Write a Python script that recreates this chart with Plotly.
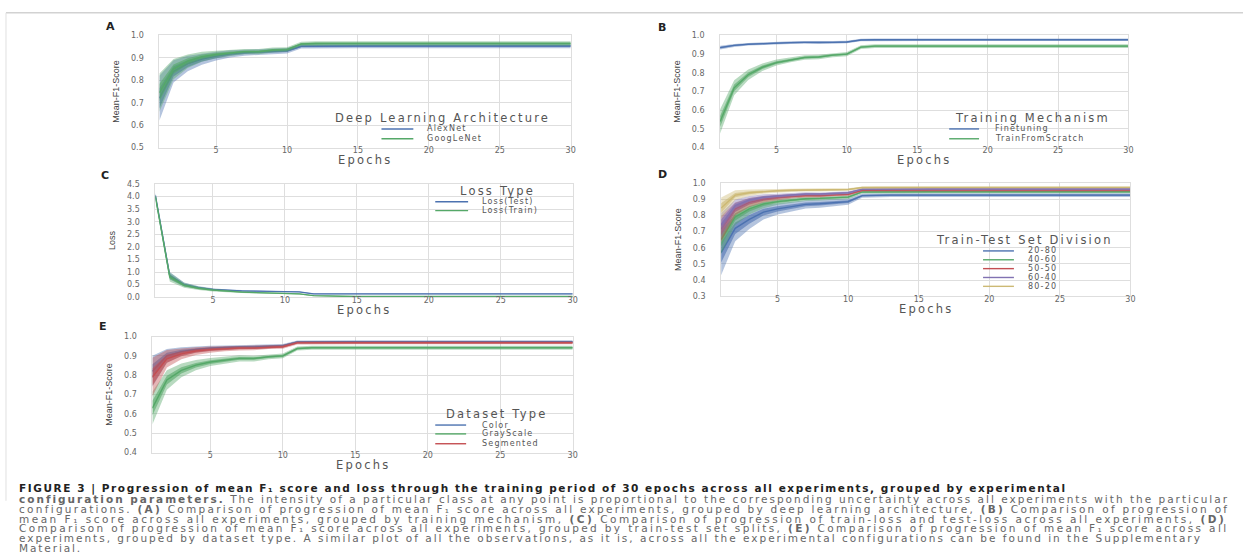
import plotly.graph_objects as go

W, H = 1248, 554

# ---------------- data ----------------
epochs = list(range(1, 31))

# Panel A - Deep Learning Architecture (Mean-F1-Score)
arch_names = ["AlexNet", "GoogLeNet"]
alexnet_mean = [0.720, 0.840, 0.875, 0.895, 0.908, 0.918, 0.924, 0.926, 0.930, 0.932, 0.952, 0.953, 0.953, 0.953, 0.953,
                0.953, 0.953, 0.953, 0.953, 0.953, 0.953, 0.953, 0.953, 0.953, 0.953, 0.953, 0.953, 0.953, 0.953, 0.953]
alexnet_spread = [0.100, 0.050, 0.035, 0.025, 0.020, 0.016, 0.014, 0.013, 0.012, 0.012, 0.010, 0.010, 0.010, 0.010, 0.010,
                  0.010, 0.010, 0.010, 0.010, 0.010, 0.010, 0.010, 0.010, 0.010, 0.010, 0.010, 0.010, 0.010, 0.010, 0.010]
googlenet_mean = [0.745, 0.850, 0.885, 0.905, 0.915, 0.923, 0.928, 0.928, 0.935, 0.937, 0.962, 0.964, 0.964, 0.964, 0.964,
                  0.964, 0.964, 0.964, 0.964, 0.964, 0.964, 0.964, 0.964, 0.964, 0.964, 0.964, 0.964, 0.964, 0.964, 0.964]
googlenet_spread = [0.085, 0.045, 0.030, 0.022, 0.017, 0.014, 0.012, 0.012, 0.011, 0.010, 0.010, 0.010, 0.010, 0.010, 0.010,
                    0.010, 0.010, 0.010, 0.010, 0.010, 0.010, 0.010, 0.010, 0.010, 0.010, 0.010, 0.010, 0.010, 0.010, 0.010]

# Panel B - Training Mechanism
mech_names = ["Finetuning", "TrainFromScratch"]
finetuning_mean = [0.935, 0.947, 0.953, 0.957, 0.960, 0.962, 0.963, 0.961, 0.963, 0.965, 0.976, 0.977, 0.977, 0.977, 0.977,
                   0.977, 0.977, 0.977, 0.977, 0.977, 0.977, 0.977, 0.977, 0.977, 0.977, 0.977, 0.977, 0.977, 0.977, 0.977]
finetuning_spread = [0.010, 0.008, 0.007, 0.007, 0.007, 0.007, 0.007, 0.007, 0.007, 0.007, 0.007, 0.007, 0.007, 0.007, 0.007,
                     0.007, 0.007, 0.007, 0.007, 0.007, 0.007, 0.007, 0.007, 0.007, 0.007, 0.007, 0.007, 0.007, 0.007, 0.007]
scratch_mean = [0.540, 0.720, 0.790, 0.830, 0.855, 0.870, 0.882, 0.885, 0.895, 0.900, 0.938, 0.943, 0.943, 0.943, 0.943,
                0.943, 0.943, 0.943, 0.943, 0.943, 0.943, 0.943, 0.943, 0.943, 0.943, 0.943, 0.943, 0.943, 0.943, 0.943]
scratch_spread = [0.065, 0.040, 0.028, 0.020, 0.016, 0.013, 0.012, 0.012, 0.011, 0.011, 0.010, 0.010, 0.010, 0.010, 0.010,
                  0.010, 0.010, 0.010, 0.010, 0.010, 0.010, 0.010, 0.010, 0.010, 0.010, 0.010, 0.010, 0.010, 0.010, 0.010]

# Panel C - Loss Type
loss_names = ["Loss(Test)", "Loss(Train)"]
loss_test_mean = [4.05, 0.85, 0.50, 0.38, 0.31, 0.27, 0.25, 0.24, 0.23, 0.22, 0.21, 0.13, 0.13, 0.13, 0.13,
                  0.13, 0.13, 0.13, 0.13, 0.13, 0.13, 0.13, 0.13, 0.13, 0.13, 0.13, 0.13, 0.13, 0.13, 0.13]
loss_test_spread = [0.10, 0.15, 0.08, 0.05, 0.04, 0.03, 0.03, 0.025, 0.025, 0.02, 0.02, 0.02, 0.02, 0.02, 0.02,
                    0.02, 0.02, 0.02, 0.02, 0.02, 0.02, 0.02, 0.02, 0.02, 0.02, 0.02, 0.02, 0.02, 0.02, 0.02]
loss_train_mean = [4.00, 0.80, 0.47, 0.35, 0.28, 0.23, 0.20, 0.18, 0.16, 0.15, 0.13, 0.06, 0.04, 0.035, 0.03,
                   0.03, 0.03, 0.03, 0.03, 0.03, 0.03, 0.03, 0.03, 0.03, 0.03, 0.03, 0.03, 0.03, 0.03, 0.03]
loss_train_spread = [0.12, 0.18, 0.10, 0.07, 0.05, 0.04, 0.035, 0.03, 0.03, 0.03, 0.025, 0.02, 0.02, 0.02, 0.02,
                     0.02, 0.02, 0.02, 0.02, 0.02, 0.02, 0.02, 0.02, 0.02, 0.02, 0.02, 0.02, 0.02, 0.02, 0.02]

# Panel D - Train-Test Set Division
split_names = ["20-80", "40-60", "50-50", "60-40", "80-20"]
split_20_80_mean = [0.570, 0.720, 0.775, 0.820, 0.840, 0.855, 0.868, 0.872, 0.880, 0.885, 0.922, 0.925, 0.925, 0.925, 0.925,
                    0.925, 0.925, 0.925, 0.925, 0.925, 0.925, 0.925, 0.925, 0.925, 0.925, 0.925, 0.925, 0.925, 0.925, 0.925]
split_20_80_spread = [0.140, 0.080, 0.060, 0.045, 0.035, 0.030, 0.026, 0.025, 0.022, 0.020, 0.013, 0.012, 0.012, 0.012, 0.012,
                      0.012, 0.012, 0.012, 0.012, 0.012, 0.012, 0.012, 0.012, 0.012, 0.012, 0.012, 0.012, 0.012, 0.012, 0.012]
split_40_60_mean = [0.650, 0.790, 0.840, 0.870, 0.885, 0.895, 0.903, 0.905, 0.910, 0.913, 0.945, 0.946, 0.946, 0.946, 0.946,
                    0.946, 0.946, 0.946, 0.946, 0.946, 0.946, 0.946, 0.946, 0.946, 0.946, 0.946, 0.946, 0.946, 0.946, 0.946]
split_40_60_spread = [0.090, 0.050, 0.035, 0.026, 0.020, 0.016, 0.014, 0.013, 0.012, 0.011, 0.009, 0.009, 0.009, 0.009, 0.009,
                      0.009, 0.009, 0.009, 0.009, 0.009, 0.009, 0.009, 0.009, 0.009, 0.009, 0.009, 0.009, 0.009, 0.009, 0.009]
split_50_50_mean = [0.715, 0.840, 0.880, 0.900, 0.910, 0.918, 0.922, 0.922, 0.928, 0.930, 0.955, 0.956, 0.956, 0.956, 0.956,
                    0.956, 0.956, 0.956, 0.956, 0.956, 0.956, 0.956, 0.956, 0.956, 0.956, 0.956, 0.956, 0.956, 0.956, 0.956]
split_50_50_spread = [0.080, 0.040, 0.028, 0.020, 0.016, 0.013, 0.012, 0.011, 0.010, 0.010, 0.008, 0.008, 0.008, 0.008, 0.008,
                      0.008, 0.008, 0.008, 0.008, 0.008, 0.008, 0.008, 0.008, 0.008, 0.008, 0.008, 0.008, 0.008, 0.008, 0.008]
split_60_40_mean = [0.740, 0.860, 0.895, 0.912, 0.920, 0.927, 0.932, 0.932, 0.937, 0.940, 0.962, 0.963, 0.963, 0.963, 0.963,
                    0.963, 0.963, 0.963, 0.963, 0.963, 0.963, 0.963, 0.963, 0.963, 0.963, 0.963, 0.963, 0.963, 0.963, 0.963]
split_60_40_spread = [0.075, 0.038, 0.025, 0.018, 0.014, 0.012, 0.011, 0.010, 0.009, 0.009, 0.007, 0.007, 0.007, 0.007, 0.007,
                      0.007, 0.007, 0.007, 0.007, 0.007, 0.007, 0.007, 0.007, 0.007, 0.007, 0.007, 0.007, 0.007, 0.007, 0.007]
split_80_20_mean = [0.845, 0.925, 0.940, 0.948, 0.952, 0.955, 0.957, 0.956, 0.959, 0.960, 0.972, 0.973, 0.973, 0.973, 0.973,
                    0.973, 0.973, 0.973, 0.973, 0.973, 0.973, 0.973, 0.973, 0.973, 0.973, 0.973, 0.973, 0.973, 0.973, 0.973]
split_80_20_spread = [0.065, 0.030, 0.020, 0.015, 0.012, 0.010, 0.009, 0.009, 0.008, 0.008, 0.007, 0.007, 0.007, 0.007, 0.007,
                      0.007, 0.007, 0.007, 0.007, 0.007, 0.007, 0.007, 0.007, 0.007, 0.007, 0.007, 0.007, 0.007, 0.007, 0.007]

# Panel E - Dataset Type
dataset_names = ["Color", "GrayScale", "Segmented"]
color_mean = [0.820, 0.900, 0.922, 0.933, 0.939, 0.943, 0.946, 0.946, 0.950, 0.952, 0.972, 0.973, 0.973, 0.973, 0.973,
              0.973, 0.973, 0.973, 0.973, 0.973, 0.973, 0.973, 0.973, 0.973, 0.973, 0.973, 0.973, 0.973, 0.973, 0.973]
color_spread = [0.080, 0.035, 0.022, 0.016, 0.013, 0.011, 0.010, 0.010, 0.009, 0.009, 0.008, 0.008, 0.008, 0.008, 0.008,
                0.008, 0.008, 0.008, 0.008, 0.008, 0.008, 0.008, 0.008, 0.008, 0.008, 0.008, 0.008, 0.008, 0.008, 0.008]
grayscale_mean = [0.630, 0.775, 0.825, 0.852, 0.868, 0.878, 0.887, 0.886, 0.895, 0.900, 0.938, 0.942, 0.942, 0.942, 0.942,
                  0.942, 0.942, 0.942, 0.942, 0.942, 0.942, 0.942, 0.942, 0.942, 0.942, 0.942, 0.942, 0.942, 0.942, 0.942]
grayscale_spread = [0.085, 0.050, 0.035, 0.026, 0.021, 0.018, 0.016, 0.015, 0.013, 0.012, 0.010, 0.010, 0.010, 0.010, 0.010,
                    0.010, 0.010, 0.010, 0.010, 0.010, 0.010, 0.010, 0.010, 0.010, 0.010, 0.010, 0.010, 0.010, 0.010, 0.010]
segmented_mean = [0.790, 0.885, 0.910, 0.925, 0.932, 0.937, 0.940, 0.940, 0.945, 0.947, 0.967, 0.968, 0.968, 0.968, 0.968,
                  0.968, 0.968, 0.968, 0.968, 0.968, 0.968, 0.968, 0.968, 0.968, 0.968, 0.968, 0.968, 0.968, 0.968, 0.968]
segmented_spread = [0.100, 0.045, 0.028, 0.020, 0.016, 0.013, 0.012, 0.011, 0.010, 0.010, 0.008, 0.008, 0.008, 0.008, 0.008,
                    0.008, 0.008, 0.008, 0.008, 0.008, 0.008, 0.008, 0.008, 0.008, 0.008, 0.008, 0.008, 0.008, 0.008, 0.008]

x_tick_values = [5, 10, 15, 20, 25, 30]

caption_lines = [
    "<b>FIGURE 3 | Progression of mean F₁ score and loss through the training period of 30 epochs across all experiments, grouped by experimental</b>",
    "<b>configuration parameters.</b> The intensity of a particular class at any point is proportional to the corresponding uncertainty across all experiments with the particular",
    "configurations. <b>(A)</b> Comparison of progression of mean F₁ score across all experiments, grouped by deep learning architecture, <b>(B)</b> Comparison of progression of",
    "mean F₁ score across all experiments, grouped by training mechanism, <b>(C)</b> Comparison of progression of train-loss and test-loss across all experiments, <b>(D)</b>",
    "Comparison of progression of mean F₁ score across all experiments, grouped by train-test set splits, <b>(E)</b> Comparison of progression of mean F₁ score across all",
    "experiments, grouped by dataset type. A similar plot of all the observations, as it is, across all the experimental configurations can be found in the Supplementary",
    "Material.",
]

# ---------------- style ----------------
BLUE, GREEN, RED, PURPLE, YELLOW = "#4C72B0", "#55A868", "#C44E52", "#8172B2", "#CCB974"
GRID = "#dedede"
TXT = "#555555"
FONT = "DejaVu Sans, Liberation Sans, sans-serif"
NARROW = "Liberation Sans Narrow, Liberation Sans, Arial, sans-serif"
# letter spacing per caption line (the printed caption is justified and horizontally stretched)
caption_spacing = [1.57, 2.0, 2.29, 2.5, 2.37, 1.99, 1.9]


def rgba(hex_color, a):
    h = hex_color.lstrip("#")
    return "rgba(%d,%d,%d,%.3f)" % (int(h[0:2], 16), int(h[2:4], 16), int(h[4:6], 16), a)


def spaced(text, ls):
    # the reference figure is horizontally stretched; widen text with letter spacing
    return '<span style="letter-spacing:%.2fpx">%s</span>' % (ls, text)


panels = [
    dict(letter="A", box=(160, 573, 32, 146), yrange=[0.5, 1.0], dtick=0.1, ytitle="Mean-F1-Score", xtitle_y=159,
         series=[(alexnet_mean, alexnet_spread, BLUE), (googlenet_mean, googlenet_spread, GREEN)],
         names=arch_names, legend_title="Deep Learning Architecture",
         leg=dict(title_xy=(444, 116), handle=(383, 415), text_x=427, ys=[127, 137]),
         letter_xy=(111, 23)),
    dict(letter="B", box=(723, 1133, 32, 146), yrange=[0.4, 1.0], dtick=0.1, ytitle="Mean-F1-Score", xtitle_y=159,
         series=[(finetuning_mean, finetuning_spread, BLUE), (scratch_mean, scratch_spread, GREEN)],
         names=mech_names, legend_title="Training Mechanism",
         leg=dict(title_xy=(1037, 116), handle=(953, 983), text_x=997, ys=[127, 137]),
         letter_xy=(665, 24)),
    dict(letter="C", box=(156, 575, 183, 298), yrange=[0.0, 4.5], dtick=0.5, ytitle="Loss", xtitle_y=311,
         series=[(loss_test_mean, loss_test_spread, BLUE), (loss_train_mean, loss_train_spread, GREEN)],
         names=loss_names, legend_title="Loss Type",
         leg=dict(title_xy=(499, 190), handle=(437, 470), text_x=482, ys=[201, 210]),
         letter_xy=(105, 174)),
    dict(letter="D", box=(724, 1135, 182, 297), yrange=[0.3, 1.0], dtick=0.1, ytitle="Mean-F1-Score", xtitle_y=310,
         series=[(split_20_80_mean, split_20_80_spread, BLUE), (split_40_60_mean, split_40_60_spread, GREEN),
                 (split_50_50_mean, split_50_50_spread, RED), (split_60_40_mean, split_60_40_spread, PURPLE),
                 (split_80_20_mean, split_80_20_spread, YELLOW)],
         names=split_names, legend_title="Train-Test Set Division",
         leg=dict(title_xy=(1029, 240), handle=(987, 1018), text_x=1030, ys=[251, 260, 269, 278, 287]),
         letter_xy=(665, 173)),
    dict(letter="E", box=(153, 575, 338, 456), yrange=[0.4, 1.0], dtick=0.1, ytitle="Mean-F1-Score", xtitle_y=469,
         series=[(color_mean, color_spread, BLUE), (grayscale_mean, grayscale_spread, GREEN),
                 (segmented_mean, segmented_spread, RED)],
         names=dataset_names, legend_title="Dataset Type",
         leg=dict(title_xy=(499, 417), handle=(437, 468), text_x=482, ys=[428, 437, 447]),
         letter_xy=(103, 328)),
]


def px(xp):
    return xp / W


def py(yp):
    return 1 - yp / H


fig = go.Figure()
annotations = []
shapes = []
layout_axes = {}

for i, p in enumerate(panels, start=1):
    xa = "x" if i == 1 else "x%d" % i
    ya = "y" if i == 1 else "y%d" % i
    left, right, top, bottom = p["box"]

    for (mean, spread, col), name in zip(p["series"], p["names"]):
        lo = [m - s for m, s in zip(mean, spread)]
        hi = [m + s for m, s in zip(mean, spread)]
        lo2 = [m - 0.45 * s for m, s in zip(mean, spread)]
        hi2 = [m + 0.45 * s for m, s in zip(mean, spread)]
        fig.add_trace(go.Scatter(x=epochs, y=lo, mode="lines", line=dict(width=0, color=col),
                                 xaxis=xa, yaxis=ya, showlegend=False, hoverinfo="skip"))
        fig.add_trace(go.Scatter(x=epochs, y=hi, mode="lines", line=dict(width=0, color=col),
                                 fill="tonexty", fillcolor=rgba(col, 0.42),
                                 xaxis=xa, yaxis=ya, showlegend=False, hoverinfo="skip"))
        fig.add_trace(go.Scatter(x=epochs, y=lo2, mode="lines", line=dict(width=0, color=col),
                                 xaxis=xa, yaxis=ya, showlegend=False, hoverinfo="skip"))
        fig.add_trace(go.Scatter(x=epochs, y=hi2, mode="lines", line=dict(width=0, color=col),
                                 fill="tonexty", fillcolor=rgba(col, 0.6),
                                 xaxis=xa, yaxis=ya, showlegend=False, hoverinfo="skip"))
        fig.add_trace(go.Scatter(x=epochs, y=mean, mode="lines", name=name,
                                 line=dict(width=1.4, color=col),
                                 xaxis=xa, yaxis=ya, showlegend=False))

    axis_common = dict(showgrid=True, gridcolor=GRID, gridwidth=1, zeroline=False,
                       showline=True, linecolor=GRID, linewidth=1, mirror=True, ticks="",
                       tickfont=dict(family=FONT, size=8, color="#666666"))
    layout_axes["xaxis" if i == 1 else "xaxis%d" % i] = dict(
        axis_common, domain=[px(left), px(right)], anchor=ya, range=[1, 30],
        tickvals=x_tick_values, ticklabelstandoff=-5)
    layout_axes["yaxis" if i == 1 else "yaxis%d" % i] = dict(
        axis_common, domain=[py(bottom), py(top)], anchor=xa, range=p["yrange"],
        dtick=p["dtick"], tick0=0, tickformat=".1f", ticklabelstandoff=13,
        title=dict(text=p["ytitle"], font=dict(family=NARROW, size=9, color="#444444"), standoff=9))

    # x-axis title "Epochs"
    annotations.append(dict(x=px((left + right) / 2), y=py(p["xtitle_y"]), xref="paper", yref="paper",
                            text=spaced("Epochs", 2.2), showarrow=False, xanchor="center", yanchor="middle",
                            font=dict(family=FONT, size=11.5, color=TXT)))

    # panel letter
    lx, ly = p["letter_xy"]
    annotations.append(dict(x=px(lx), y=py(ly), xref="paper", yref="paper", text="<b>%s</b>" % p["letter"],
                            showarrow=False, xanchor="center", yanchor="middle",
                            font=dict(family=FONT, size=11, color="#222222")))

    # legend (drawn like seaborn's compact legend)
    lg = p["leg"]
    tx, ty = lg["title_xy"]
    annotations.append(dict(x=px(tx), y=py(ty), xref="paper", yref="paper",
                            text=spaced(p["legend_title"], 2.2),
                            showarrow=False, xanchor="center", yanchor="middle",
                            font=dict(family=FONT, size=11.5, color=TXT)))
    h0, h1 = lg["handle"]
    for (mean, spread, col), name, yy in zip(p["series"], p["names"], lg["ys"]):
        shapes.append(dict(type="line", xref="paper", yref="paper", x0=px(h0), x1=px(h1),
                           y0=py(yy), y1=py(yy), line=dict(color=col, width=1.4)))
        annotations.append(dict(x=px(lg["text_x"]), y=py(yy), xref="paper", yref="paper",
                                text=spaced(name, 1.2),
                                showarrow=False, xanchor="left", yanchor="middle",
                                font=dict(family=FONT, size=8, color=TXT)))

# caption
cap_y0, cap_dy = 493, 10
for k, line in enumerate(caption_lines):
    annotations.append(dict(x=px(17), y=py(cap_y0 + k * cap_dy), xref="paper", yref="paper",
                            text=spaced(line, caption_spacing[k]),
                            showarrow=False, xanchor="left", yanchor="middle", align="left",
                            font=dict(family=FONT, size=10.5, color="#666666" if k > 0 else "#222222")))

# page frame lines
shapes.append(dict(type="line", xref="paper", yref="paper", x0=px(6), x1=1, y0=py(9), y1=py(9),
                   line=dict(color="#bbbbbb", width=1)))
shapes.append(dict(type="line", xref="paper", yref="paper", x0=px(6), x1=px(6), y0=py(9), y1=py(505),
                   line=dict(color="#e0e0e0", width=1)))

fig.update_layout(
    width=W, height=H, autosize=False,
    margin=dict(l=0, r=0, t=0, b=0),
    paper_bgcolor="white", plot_bgcolor="white",
    showlegend=False,
    annotations=annotations, shapes=shapes,
    font=dict(family=FONT),
    **layout_axes,
)

fig.write_html("out.html", config={"displayModeBar": False},
               post_script="document.body.style.margin='0px';")
